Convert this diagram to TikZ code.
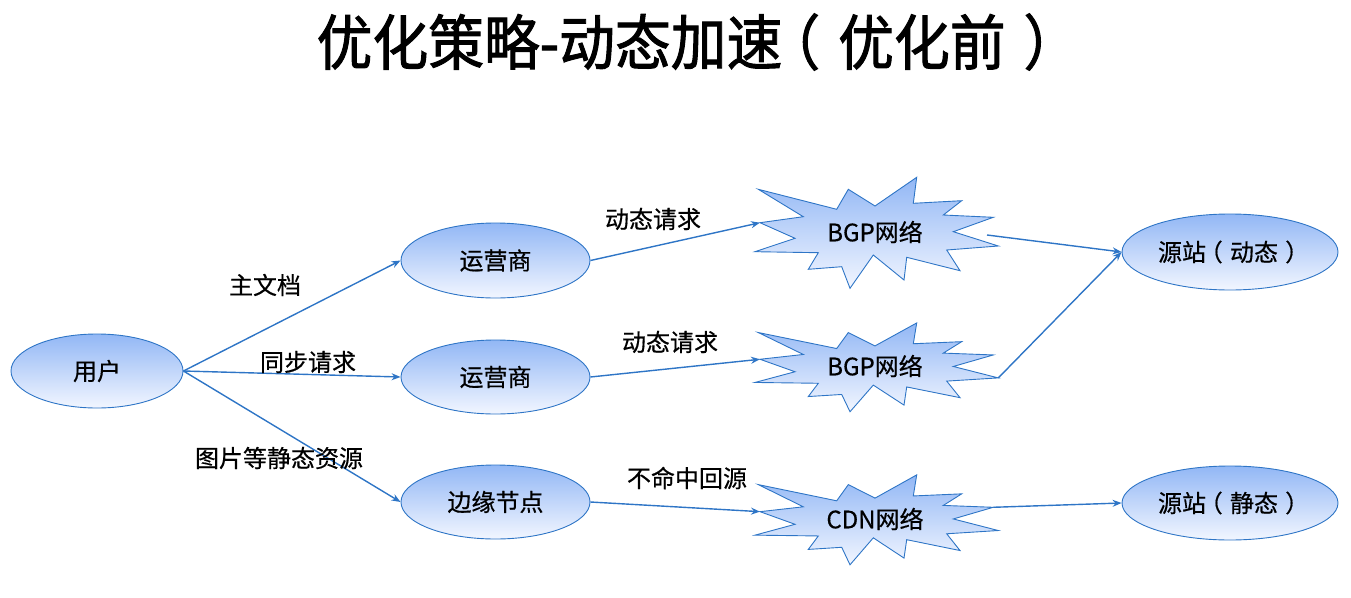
\documentclass[tikz,border=0pt]{standalone}
\usepackage{fontspec}
\setmainfont{Noto Sans CJK SC}[FakeBold=0.5]
\newfontfamily\titlefont{Noto Sans CJK SC}[FakeBold=1.6, FakeStretch=0.93]
\usetikzlibrary{shapes.geometric,arrows.meta}
\definecolor{edgeblue}{RGB}{46,117,198}
\definecolor{filltop}{RGB}{146,183,245}
\definecolor{fillbot}{RGB}{242,246,255}
\newcommand\lpar{\kern-0.3em（\kern0.3em}
\newcommand\rpar{\kern0.3em）\kern-0.3em}
\tikzset{
  ell/.style={ellipse, draw=edgeblue, line width=0.9pt, top color=filltop, bottom color=fillbot,
    inner sep=0pt, font=\fontsize{24}{28}\selectfont},
  conn/.style={draw=edgeblue, line width=1.4pt, -{Stealth[length=9pt,width=7pt]}},
  lbl/.style={font=\fontsize{24}{28}\selectfont, inner sep=0pt},
  burstline/.style={draw=edgeblue, line width=0.9pt, top color=filltop, bottom color=fillbot, line join=miter},
}
\newcommand\mkburst[4]{%
  \begin{scope}[shift={(#2,#3)},yscale=#4]
    \path[burstline] (-117.7,-43.7) coordinate (#1-1) -- (-39.3,-23.7) -- (-27.7,-43.7) -- (-1,-27)
      -- (40.7,-55.7) -- (37.3,-29.7) -- (85.7,-32.3) -- (67.3,-18)
      -- (117.3,-15.7) coordinate (#1-9) -- (77.3,-1.3) -- (122.3,13) coordinate (#1-11) -- (70.7,17)
      -- (84,37.7) -- (30.7,24.3) -- (28,47) -- (-2.7,22)
      -- (-26,55.3) -- (-34.3,33.7) -- (-67.7,36.3) -- (-57.7,19.7)
      -- (-121,18.7) -- (-81,5.3) -- (-116,-10.3) coordinate (#1-23) -- (-72.7,-16.3) -- cycle;
    \coordinate (#1-r) at (111,2);
  \end{scope}}
\begin{document}
\begin{tikzpicture}[x=1pt,y=-1pt]
\useasboundingbox (0,0) rectangle (1351,597);
\node[font=\fontsize{60}{66}\selectfont\titlefont, inner sep=0pt] (title) at (689,42) {优化策略-动态加速\lpar 优化前\rpar};

\node[ell, minimum width=172pt, minimum height=74pt] (user) at (97,371) {用户};
\node[ell, minimum width=189pt, minimum height=75pt] (op1) at (495.5,260.5) {运营商};
\node[ell, minimum width=189pt, minimum height=74pt] (op2) at (495.5,377) {运营商};
\node[ell, minimum width=189pt, minimum height=74pt] (edge) at (495.5,502) {边缘节点};
\node[ell, minimum width=216pt, minimum height=76pt] (src1) at (1230,252) {源站\lpar 动态\rpar};
\node[ell, minimum width=216pt, minimum height=74pt] (src2) at (1230,503) {源站\lpar 静态\rpar};

\mkburst{b1}{876}{233}{1}
\mkburst{b2}{876}{367.5}{0.8}
\mkburst{b3}{876}{520}{0.81}
\node[lbl] (bgp1) at (875,232) {BGP网络};
\node[lbl] (bgp2) at (875,366) {BGP网络};
\node[lbl] (cdn) at (875,519) {CDN网络};

\draw[conn] (user.east) -- (op1.west);
\draw[conn] (user.east) -- (op2.west);
\draw[conn] (user.east) -- (edge.west);
\draw[conn] (op1.east) -- (b1-23);
\draw[conn] (op2.east) -- (b2-23);
\draw[conn] (edge.east) -- (b3-23);
\draw[conn] (b1-r) -- (src1.west);
\draw[conn] (b2-11) -- (src1.west);
\draw[conn] (b3-9) -- (src2.west);

\node[lbl] (l1) at (265,285) {主文档};
\node[lbl] (l2) at (308,362) {同步请求};
\node[lbl] (l3) at (279,458) {图片等静态资源};
\node[lbl] (l4) at (653,219) {动态请求};
\node[lbl] (l5) at (670,342) {动态请求};
\node[lbl] (l6) at (687,478) {不命中回源};
\end{tikzpicture}
\end{document}
